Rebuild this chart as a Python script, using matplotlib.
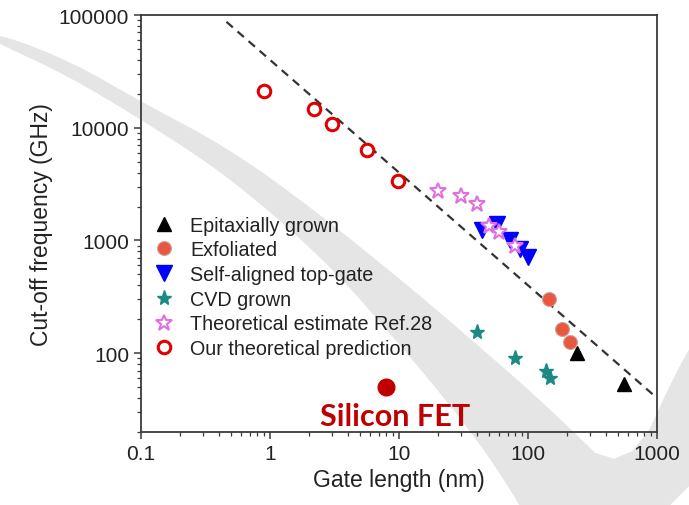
import numpy as np
import matplotlib.pyplot as plt
from matplotlib.patches import Polygon
from matplotlib.ticker import FixedLocator, FixedFormatter, LogLocator, NullFormatter

# Dane (długość bramki [nm], częstotliwość odcięcia [GHz])
epi_L = [240, 550]
epi_f = [100, 53]

exf_L = [145, 185, 210]
exf_f = [300, 165, 125]

sa_L = [44, 57, 72, 87, 100]
sa_f = [1250, 1400, 1000, 840, 710]

cvd_L = [40, 80, 138, 148]
cvd_f = [155, 90, 70, 60]

ref28_L = [20, 30, 40, 50, 60, 80]
ref28_f = [2750, 2500, 2100, 1350, 1200, 900]

ours_L = [0.9, 2.2, 3.0, 5.6, 9.8]
ours_f = [21000, 14700, 10900, 6400, 3400]

si_L = [8]
si_f = [50]
si_label_pos = (9.3, 28)

# linia trendu f = C / L
trend_C = 40000
trend_L = np.array([0.46, 1000])

xticks = [0.1, 1, 10, 100, 1000]
xticklabels = ['0.1', '1', '10', '100', '1000']
yticks = [100, 1000, 10000, 100000]
yticklabels = ['100', '1000', '10000', '100000']

# tło slajdu - szary łuk (piksele obrazka)
band_top = [(0, 35), (70, 62), (140, 102), (230, 150), (313, 210), (400, 280),
            (465, 335), (545, 405), (625, 483), (689, 345), (700, 345), (700, 520)]
band_bottom = [(525, 520), (520, 506), (485, 452), (445, 400), (395, 340), (333, 270),
               (267, 210), (210, 165), (140, 120), (70, 78), (0, 45), (-10, 40)]


def chaikin(pts, n=3):
    # wygładzanie obrysu
    p = np.array(pts, dtype=float)
    for _ in range(n):
        q = 0.75 * p + 0.25 * np.roll(p, -1, axis=0)
        r = 0.25 * p + 0.75 * np.roll(p, -1, axis=0)
        p = np.empty((2 * len(q), 2))
        p[0::2] = q
        p[1::2] = r
    return p


fig = plt.figure(figsize=(6.89, 5.06), dpi=100)

bg = fig.add_axes([0, 0, 1, 1], zorder=0)
bg.set_xlim(0, 689)
bg.set_ylim(506, 0)
bg.axis('off')
bg.add_patch(Polygon(chaikin(band_top + band_bottom, 2), closed=True,
                     fc='#e5e5e5', ec='none'))

ax = fig.add_axes([141/689, 73/506, 516/689, 417/506], zorder=1)
ax.set_facecolor('none')
ax.set_xscale('log')
ax.set_yscale('log')
ax.set_xlim(0.1, 1000)
ax.set_ylim(20, 100000)

ax.plot(trend_L, trend_C / trend_L, color='#333333', lw=1.6,
        linestyle=(0, (3.8, 2.8)), zorder=2)

ax.plot(epi_L, epi_f, '^', color='black', ms=10, ls='none',
        label='Epitaxially grown', zorder=3)
ax.plot(exf_L, exf_f, 'o', mfc='#e8573e', mec='#c9a59b', mew=0.8, ms=10,
        ls='none', label='Exfoliated', zorder=3)
ax.plot(sa_L, sa_f, 'v', color='#0000ff', ms=11, ls='none',
        label='Self-aligned top-gate', zorder=3)
ax.plot(cvd_L, cvd_f, '*', color='#1b8a85', ms=11, ls='none',
        label='CVD grown', zorder=3)
ax.plot(ref28_L, ref28_f, '*', mfc='white', mec='#e070e0', mew=1.5, ms=12,
        ls='none', label='Theoretical estimate Ref.28', zorder=4)
ax.plot(ours_L, ours_f, 'o', mfc='white', mec='#e00000', mew=2.2, ms=9,
        ls='none', label='Our theoretical prediction', zorder=4)

ax.plot(si_L, si_f, 'o', color='#c00000', ms=12, ls='none', zorder=3)
ax.text(si_label_pos[0], si_label_pos[1], 'Silicon FET', color='#c00000',
        family=['Lato', 'DejaVu Sans'], fontweight='bold', fontsize=22,
        ha='center', va='center', zorder=5)

font = ['Liberation Sans', 'DejaVu Sans']
leg = ax.legend(loc='upper left', bbox_to_anchor=(0.0, 0.538), frameon=False,
                prop={'family': font, 'size': 14.2}, handletextpad=0.6,
                labelspacing=0.29, borderaxespad=0.0, handlelength=1.5)
for t in leg.get_texts():
    t.set_color('#222222')

ax.xaxis.set_major_locator(FixedLocator(xticks))
ax.xaxis.set_major_formatter(FixedFormatter(xticklabels))
ax.yaxis.set_major_locator(FixedLocator(yticks))
ax.yaxis.set_major_formatter(FixedFormatter(yticklabels))
ax.xaxis.set_minor_locator(LogLocator(base=10, subs=np.arange(2, 10)))
ax.yaxis.set_minor_locator(LogLocator(base=10, subs=np.arange(2, 10)))
ax.xaxis.set_minor_formatter(NullFormatter())
ax.yaxis.set_minor_formatter(NullFormatter())

for s in ax.spines.values():
    s.set_color('#3a3a3a')
    s.set_linewidth(1.3)
ax.tick_params(which='major', direction='out', length=5, width=1.1,
               color='#3a3a3a', labelsize=15, labelcolor='#222222',
               top=False, right=False)
ax.tick_params(which='minor', direction='out', length=3, width=0.9,
               color='#3a3a3a', top=False, right=False)
for lbl in ax.get_xticklabels() + ax.get_yticklabels():
    lbl.set_family(font)

ax.set_xlabel('Gate length (nm)', family=font, fontsize=16.5, color='#222222',
              labelpad=4)
ax.set_ylabel('Cut-off frequency (GHz)', family=font, fontsize=16.5,
              color='#222222', labelpad=4)

fig.savefig('out.png', dpi=100)
